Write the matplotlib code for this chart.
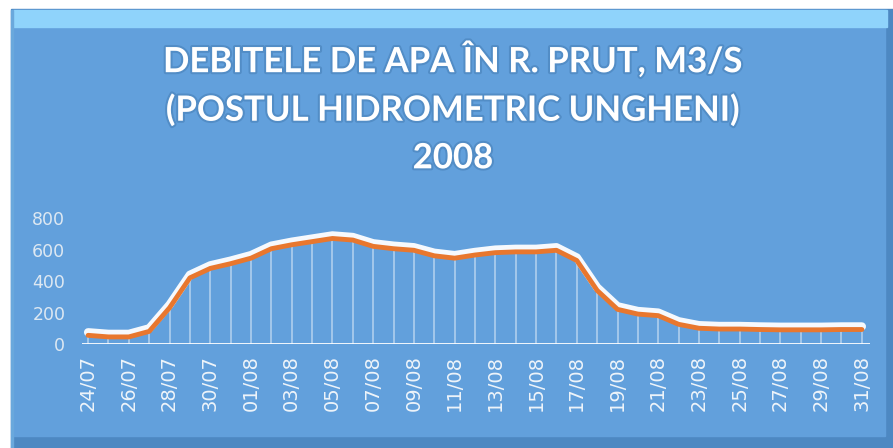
import matplotlib
matplotlib.use("Agg")
import matplotlib.pyplot as plt
import matplotlib.patheffects as pe
from matplotlib.patches import Rectangle

# daily discharge, 24/07 .. 31/08 2008 (m3/s)
flow = [55, 45, 45, 80, 230, 420, 480, 510, 545, 605,
        630, 650, 670, 660, 620, 605, 595, 560, 545, 565,
        580, 585, 585, 595, 530, 340, 220, 190, 180, 125,
        100, 95, 95, 92, 90, 90, 90, 92, 92]
tick_labels = ["24/07", "26/07", "28/07", "30/07", "01/08", "03/08", "05/08",
               "07/08", "09/08", "11/08", "13/08", "15/08", "17/08", "19/08",
               "21/08", "23/08", "25/08", "27/08", "29/08", "31/08"]
y_ticks = [0, 200, 400, 600, 800]
title = "DEBITELE DE APA ÎN R. PRUT, M3/S\n(POSTUL HIDROMETRIC UNGHENI)\n2008"

BLUE = "#62a0dc"
ORANGE = "#e8772e"

fig = plt.figure(figsize=(8.93, 4.48), dpi=100, facecolor="white")

# chart frame (blue box with bevel strips)
W, H = 893.0, 448.0
def box(x0, y0, x1, y1, color, z):
    fig.patches.append(Rectangle((x0 / W, 1 - y1 / H), (x1 - x0) / W, (y1 - y0) / H,
                                 transform=fig.transFigure, color=color, zorder=z))
box(11, 9, 893, 448, "#4d88c2", 0)
box(13, 10, 885, 436, BLUE, 1)
box(13, 10, 887, 27, "#8fd3fb", 2)
box(11, 10, 13, 448, "#6aa8dc", 2)

ax = fig.add_axes([82 / W, 1 - 344 / H, (870 - 82) / W, (344 - 218) / H])
ax.set_facecolor("none")
ax.set_zorder(3)

x = list(range(len(flow)))
ax.vlines(x, 0, flow, color="white", lw=1.3, alpha=0.45, zorder=2)
ax.plot(x, flow, color=ORANGE, lw=3.5, solid_capstyle="round",
        solid_joinstyle="round", zorder=4,
        path_effects=[pe.SimpleLineShadow(offset=(0, 2.2), shadow_color="white",
                                          alpha=0.95, linewidth=6),
                      pe.Normal()])
ax.axhline(0, color="white", lw=2, zorder=3)

ax.set_xlim(-0.3, 38.4)
ax.set_ylim(0, 800)
ax.set_yticks(y_ticks)
ax.set_yticklabels([str(v) for v in y_ticks], fontsize=12.5, color="#dde8f2")
ax.set_xticks(x[::2])
ax.set_xticklabels(tick_labels, rotation=90, fontsize=14, color="#eef4fa")
ax.tick_params(axis="both", length=0)
ax.tick_params(axis="y", pad=12)
ax.tick_params(axis="x", pad=8)
for s in ax.spines.values():
    s.set_visible(False)

fig.text(453 / W, 1 - 108 / H, title, ha="center", va="center", color="white",
         fontsize=25, fontweight="bold", family="Lato", linespacing=1.6,
         path_effects=[pe.withStroke(linewidth=3, foreground="#3f76ad", alpha=0.45)],
         zorder=5)

fig.savefig("out.png", dpi=100, facecolor="white")
